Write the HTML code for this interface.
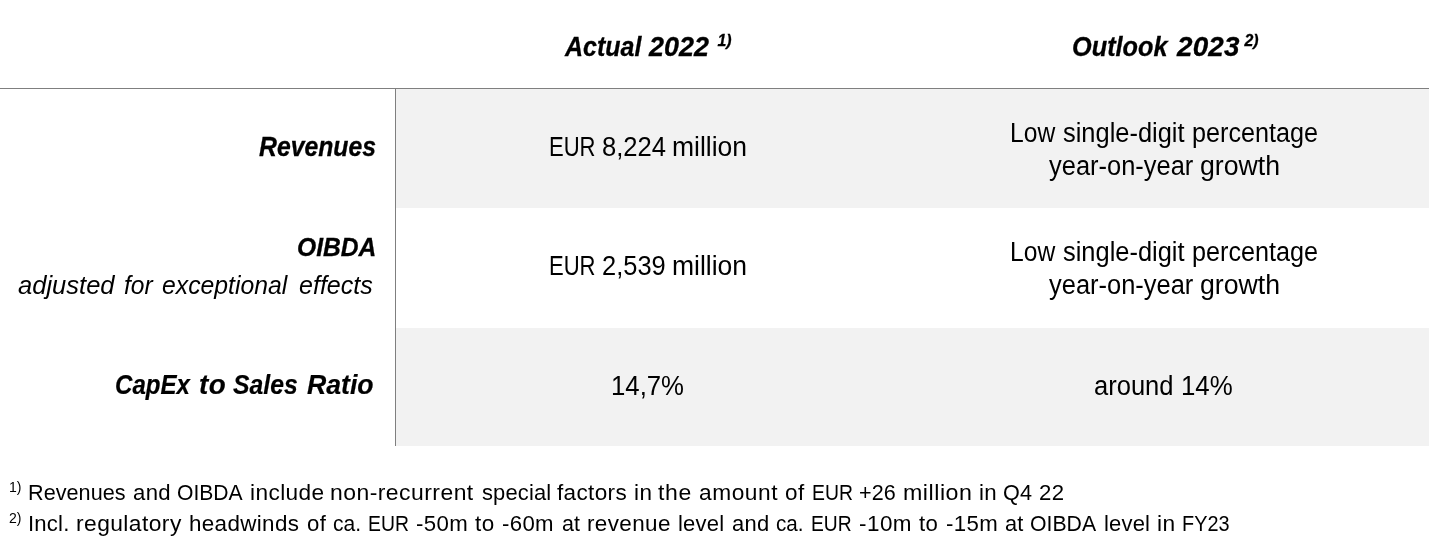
<!DOCTYPE html>
<html><head><meta charset="utf-8">
<style>
html,body{margin:0;padding:0;background:#fff;}
body{width:1429px;height:544px;position:relative;overflow:hidden;font-family:"Liberation Sans",sans-serif;color:#000;}
.t{position:absolute;left:0;width:1429px;height:30px;line-height:30px;white-space:nowrap;}
.t span{position:absolute;top:0;transform-origin:0 0;}
.bg{position:absolute;left:396px;width:1033px;background:#f2f2f2;}
.hl{position:absolute;left:0;top:88px;width:1429px;height:1px;background:#7f7f7f;}
.vl{position:absolute;left:395px;top:88px;width:1px;height:358px;background:#7f7f7f;}
.bi{font-weight:bold;font-style:italic;}
.i{font-style:italic;}
.t span.s{font-size:14px;}
.t span.hs{font-size:15.9px;}

</style></head><body>
<div class="bg" style="top:89px;height:119px"></div>
<div class="bg" style="top:327.6px;height:118.3px"></div>
<div class="hl"></div><div class="vl"></div>
<div class="t bi" id="h1" style="top:32px;font-size:27.5px;-webkit-text-stroke:0.3px #000"> <span style="left:564.81px;transform:scaleX(0.9085)">Actual</span> <span style="left:649.48px;transform:scaleX(0.9796)">2022</span> <span class="hs" style="left:717.5px;top:-6px">1)</span></div>
<div class="t bi" id="h2" style="top:32px;font-size:27.5px;-webkit-text-stroke:0.3px #000"> <span style="left:1072.18px;transform:scaleX(0.9198)">Outlook</span> <span style="left:1176.51px;letter-spacing:0.160px;transform:scaleX(1.0118)">2023</span> <span class="hs" style="left:1244.5px;top:-6px">2)</span></div>
<div class="t bi" id="l1" style="top:131.5px;font-size:27.2px;-webkit-text-stroke:0.3px #000"> <span style="left:259.30px;transform:scaleX(0.9109)">Revenues</span> </div>
<div class="t bi" id="l2" style="top:232px;font-size:26px;-webkit-text-stroke:0.3px #000"> <span style="left:296.65px;transform:scaleX(0.9469)">OIBDA</span> </div>
<div class="t i" id="l2b" style="top:270px;font-size:25.6px"> <span style="left:18.30px;transform:scaleX(0.9976)">adjusted</span> <span style="left:124.00px;transform:scaleX(0.9603)">for</span> <span style="left:161.80px;transform:scaleX(0.9672)">exceptional</span> <span style="left:298.90px;transform:scaleX(0.9789)">effects</span> </div>
<div class="t bi" id="l3" style="top:370px;font-size:27px;-webkit-text-stroke:0.2px #000"> <span style="left:114.81px;transform:scaleX(0.8927)">CapEx</span> <span style="left:199.37px;letter-spacing:0.469px;transform:scaleX(1.0302)">to</span> <span style="left:232.70px;transform:scaleX(0.9172)">Sales</span> <span style="left:306.80px;transform:scaleX(0.9865)">Ratio</span> </div>
<div class="t" id="v1" style="top:132px;font-size:27px"> <span style="left:548.57px;transform:scaleX(0.8164)">EUR</span> <span style="left:601.65px;transform:scaleX(0.9482)">8,224</span> <span style="left:672.12px;transform:scaleX(0.9812)">million</span> </div>
<div class="t" id="v2" style="top:251px;font-size:27px"> <span style="left:548.57px;transform:scaleX(0.8164)">EUR</span> <span style="left:602.16px;transform:scaleX(0.9428)">2,539</span> <span style="left:672.12px;transform:scaleX(0.9812)">million</span> </div>
<div class="t" id="v3" style="top:371px;font-size:27px"> <span style="left:611.29px;transform:scaleX(0.9537)">14,7%</span> </div>
<div class="t" id="o1a" style="top:118px;font-size:27px"> <span style="left:1009.78px;transform:scaleX(0.9119)">Low</span> <span style="left:1062.80px;transform:scaleX(0.9416)">single-digit</span> <span style="left:1191.87px;transform:scaleX(0.9325)">percentage</span> </div>
<div class="t" id="o1b" style="top:150.5px;font-size:27px"> <span style="left:1048.50px;transform:scaleX(0.9427)">year-on-year</span> <span style="left:1199.91px;transform:scaleX(0.9883)">growth</span> </div>
<div class="t" id="o2a" style="top:237px;font-size:27px"> <span style="left:1009.78px;transform:scaleX(0.9119)">Low</span> <span style="left:1062.80px;transform:scaleX(0.9416)">single-digit</span> <span style="left:1191.87px;transform:scaleX(0.9325)">percentage</span> </div>
<div class="t" id="o2b" style="top:269.5px;font-size:27px"> <span style="left:1048.50px;transform:scaleX(0.9427)">year-on-year</span> <span style="left:1199.91px;transform:scaleX(0.9883)">growth</span> </div>
<div class="t" id="o3" style="top:371px;font-size:27px"> <span style="left:1094.25px;transform:scaleX(0.9457)">around</span> <span style="left:1180.59px;transform:scaleX(0.9571)">14%</span> </div>
<div class="t" id="f1" style="top:478px;font-size:21.5px"><span class="s" style="left:9px;top:-6px">1)</span> <span style="left:28.40px;letter-spacing:0.042px;transform:scaleX(1.0047)">Revenues</span> <span style="left:133.40px;letter-spacing:0.328px;transform:scaleX(1.0290)">and</span> <span style="left:176.92px;transform:scaleX(0.9810)">OIBDA</span> <span style="left:250.45px;letter-spacing:0.375px;transform:scaleX(1.0537)">include</span> <span style="left:330.23px;letter-spacing:0.441px;transform:scaleX(1.0661)">non-recurrent</span> <span style="left:481.60px;letter-spacing:0.141px;transform:scaleX(1.0195)">special</span> <span style="left:557.00px;letter-spacing:0.326px;transform:scaleX(1.0483)">factors</span> <span style="left:633.65px;letter-spacing:0.430px;transform:scaleX(1.0456)">in</span> <span style="left:658.40px;letter-spacing:0.630px;transform:scaleX(1.0699)">the</span> <span style="left:698.50px;letter-spacing:0.512px;transform:scaleX(1.0565)">amount</span> <span style="left:785.00px;letter-spacing:0.514px;transform:scaleX(1.0449)">of</span> <span style="left:811.80px;transform:scaleX(0.9005)">EUR</span> <span style="left:859.10px;letter-spacing:0.037px;transform:scaleX(1.0032)">+26</span> <span style="left:903.12px;letter-spacing:0.483px;transform:scaleX(1.0796)">million</span> <span style="left:978.86px;letter-spacing:0.356px;transform:scaleX(1.0375)">in</span> <span style="left:1002.99px;letter-spacing:0.110px;transform:scaleX(1.0060)">Q4</span> <span style="left:1038.67px;letter-spacing:0.443px;transform:scaleX(1.0312)">22</span> </div>
<div class="t" id="f2" style="top:509px;font-size:21.5px"><span class="s" style="left:9px;top:-6px">2)</span> <span style="left:28.37px;letter-spacing:0.179px;transform:scaleX(1.0295)">Incl.</span> <span style="left:75.64px;letter-spacing:0.404px;transform:scaleX(1.0610)">regulatory</span> <span style="left:188.56px;letter-spacing:0.338px;transform:scaleX(1.0419)">headwinds</span> <span style="left:306.80px;letter-spacing:0.366px;transform:scaleX(1.0315)">of</span> <span style="left:333.00px;transform:scaleX(0.9781)">ca.</span> <span style="left:367.60px;transform:scaleX(0.9005)">EUR</span> <span style="left:415.90px;letter-spacing:0.351px;transform:scaleX(1.0340)">-50m</span> <span style="left:474.70px;letter-spacing:0.508px;transform:scaleX(1.0443)">to</span> <span style="left:502.40px;letter-spacing:0.326px;transform:scaleX(1.0315)">-60m</span> <span style="left:561.80px;transform:scaleX(0.9968)">at</span> <span style="left:587.46px;letter-spacing:0.361px;transform:scaleX(1.0448)">revenue</span> <span style="left:677.78px;letter-spacing:0.172px;transform:scaleX(1.0249)">level</span> <span style="left:732.10px;letter-spacing:0.232px;transform:scaleX(1.0204)">and</span> <span style="left:776.20px;transform:scaleX(0.9600)">ca.</span> <span style="left:810.90px;transform:scaleX(0.8959)">EUR</span> <span style="left:858.90px;letter-spacing:0.450px;transform:scaleX(1.0440)">-10m</span> <span style="left:918.90px;letter-spacing:0.360px;transform:scaleX(1.0309)">to</span> <span style="left:945.90px;letter-spacing:0.351px;transform:scaleX(1.0340)">-15m</span> <span style="left:1005.10px;letter-spacing:0.136px;transform:scaleX(1.0115)">at</span> <span style="left:1029.71px;transform:scaleX(0.9870)">OIBDA</span> <span style="left:1103.78px;letter-spacing:0.162px;transform:scaleX(1.0235)">level</span> <span style="left:1156.84px;letter-spacing:0.538px;transform:scaleX(1.0578)">in</span> <span style="left:1182.18px;transform:scaleX(0.9240)">FY23</span> </div>
</body></html>
